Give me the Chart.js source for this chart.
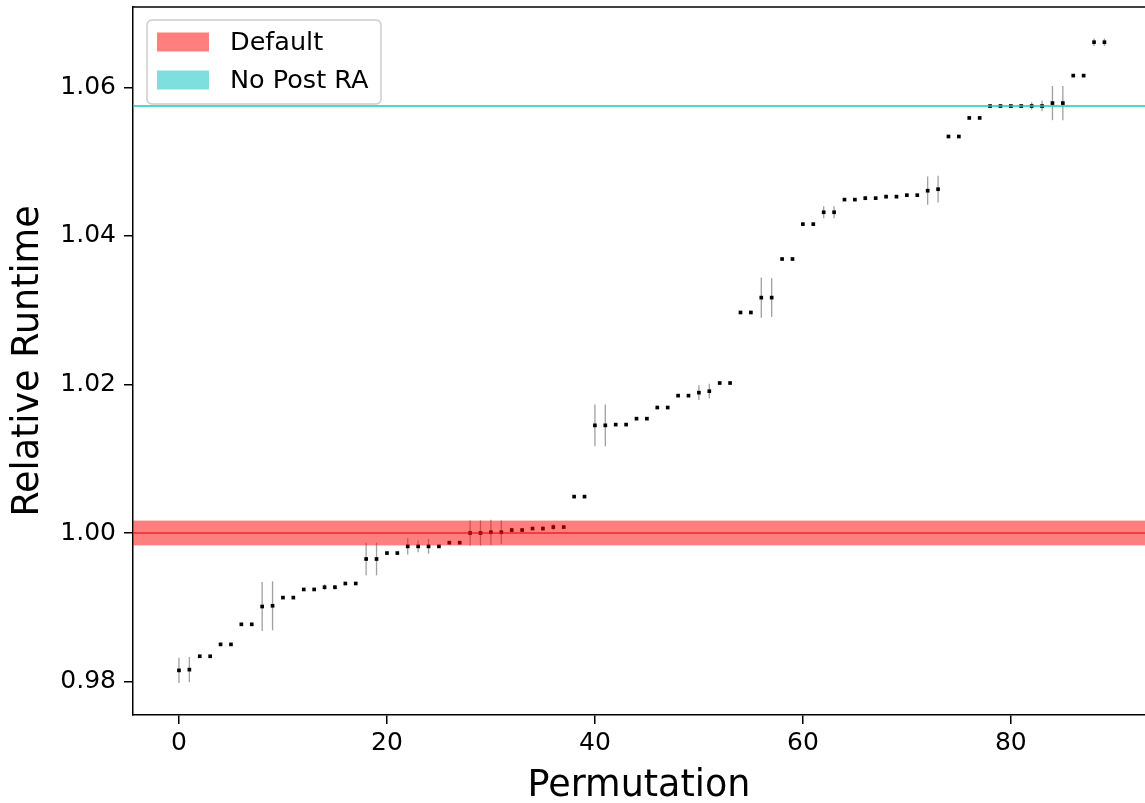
<!DOCTYPE html>
<html>
<head>
<meta charset="utf-8">
<script src="https://cdn.jsdelivr.net/npm/chart.js@4.4.1/dist/chart.umd.min.js"></script>
<style>
    html,body{margin:0;padding:0;background:#fff;overflow:hidden;}
    #wrap{width:1145px;height:803px;position:relative;}
    #myScatterChart{display:block;}
</style>
</head>
<body>
<div id="wrap"><canvas id="myScatterChart"></canvas></div>
<script>
// relative runtime per permutation
const runtimes = [
    0.9815, 0.9816, 0.9834, 0.9834, 0.9850, 0.9850, 0.9877, 0.9877, 0.9901, 0.9902,
    0.9913, 0.9913, 0.9924, 0.9924, 0.9927, 0.9927, 0.9932, 0.9932, 0.9965, 0.9965,
    0.9973, 0.9973, 0.9982, 0.9982, 0.9982, 0.9982, 0.9987, 0.9987, 1.0000, 1.0000,
    1.0001, 1.0001, 1.0004, 1.0004, 1.0006, 1.0006, 1.0008, 1.0008, 1.0049, 1.0049,
    1.0145, 1.0145, 1.0146, 1.0146, 1.0154, 1.0154, 1.0169, 1.0169, 1.0185, 1.0185,
    1.0189, 1.0191, 1.0202, 1.0202, 1.0297, 1.0297, 1.0317, 1.0317, 1.0369, 1.0369,
    1.0416, 1.0416, 1.0432, 1.0432, 1.0449, 1.0449, 1.0451, 1.0451, 1.0453, 1.0453,
    1.0455, 1.0455, 1.0461, 1.0463, 1.0534, 1.0534, 1.0559, 1.0559, 1.0575, 1.0575,
    1.0575, 1.0575, 1.0575, 1.0575, 1.0579, 1.0579, 1.0616, 1.0616, 1.0661, 1.0661
];
const runtimeErrors = [
    0.0017, 0.0017, 0.0002, 0.0002, 0, 0, 0, 0, 0.0033, 0.0033,
    0, 0, 0, 0, 0.0004, 0.0003, 0, 0, 0.0022, 0.0022,
    0, 0, 0.0011, 0.0008, 0.0010, 0, 0.0002, 0, 0.0017, 0.0017,
    0.0017, 0.0016, 0.0003, 0, 0, 0.0003, 0.0004, 0, 0, 0,
    0.0028, 0.0028, 0, 0, 0, 0, 0, 0, 0, 0,
    0.0010, 0.0010, 0, 0, 0, 0, 0.0027, 0.0026, 0, 0,
    0, 0, 0.0008, 0.0008, 0, 0, 0.0003, 0, 0.0003, 0.0002,
    0, 0, 0.0019, 0.0018, 0, 0, 0, 0, 0, 0,
    0, 0, 0.0005, 0.0007, 0.0023, 0.0023, 0, 0, 0.0005, 0.0005
];
const permutations = runtimes.map((v, i) => i);

const defaultRuntime = 1.0;
const defaultStd = 0.00167;
const noPostRaRuntime = 1.0575;

const xTicks = [0, 20, 40, 60, 80];
const yTicks = [0.98, 1.00, 1.02, 1.04, 1.06];
const legendLabels = ['Default', 'No Post RA'];

const FONT = "'DejaVu Sans', sans-serif";

// error bars go under the markers
const errorBarPlugin = {
    id: 'errorBars',
    beforeDatasetsDraw(chart) {
        const ctx = chart.ctx;
        const xs = chart.scales.x;
        const ys = chart.scales.y;
        ctx.save();
        ctx.strokeStyle = 'rgba(128,128,128,0.75)';
        ctx.lineWidth = 1.3;
        permutations.forEach((p, i) => {
            const e = runtimeErrors[i];
            if (!e) return;
            const px = xs.getPixelForValue(p);
            ctx.beginPath();
            ctx.moveTo(px, ys.getPixelForValue(runtimes[i] - e));
            ctx.lineTo(px, ys.getPixelForValue(runtimes[i] + e));
            ctx.stroke();
        });
        ctx.restore();
    }
};

// reference bands are drawn over the points, like in the original
const referencePlugin = {
    id: 'references',
    afterDatasetsDraw(chart) {
        const ctx = chart.ctx;
        const a = chart.chartArea;
        const ys = chart.scales.y;
        ctx.save();
        ctx.beginPath();
        ctx.rect(a.left, a.top, a.right - a.left, a.bottom - a.top);
        ctx.clip();

        const top = ys.getPixelForValue(defaultRuntime + defaultStd);
        const bot = ys.getPixelForValue(defaultRuntime - defaultStd);
        ctx.fillStyle = 'rgba(255,0,0,0.5)';
        ctx.fillRect(a.left, top, a.right - a.left, bot - top);

        const yd = ys.getPixelForValue(defaultRuntime);
        ctx.strokeStyle = 'rgba(225,20,20,0.8)';
        ctx.lineWidth = 1.5;
        ctx.beginPath();
        ctx.moveTo(a.left, yd);
        ctx.lineTo(a.right, yd);
        ctx.stroke();

        const yc = ys.getPixelForValue(noPostRaRuntime);
        ctx.strokeStyle = '#1fc3c3';
        ctx.beginPath();
        ctx.moveTo(a.left, yc);
        ctx.lineTo(a.right, yc);
        ctx.stroke();
        ctx.restore();
    },
    afterDraw(chart) {
        const ctx = chart.ctx;
        const a = chart.chartArea;
        ctx.save();
        // top spine
        ctx.strokeStyle = '#000';
        ctx.lineWidth = 1.5;
        ctx.beginPath();
        ctx.moveTo(a.left, a.top);
        ctx.lineTo(a.right, a.top);
        ctx.stroke();

        // legend box
        const bx = a.left + 14, by = a.top + 13, bw = 234, bh = 84, r = 5;
        ctx.fillStyle = 'rgba(255,255,255,0.8)';
        ctx.strokeStyle = '#cccccc';
        ctx.lineWidth = 1.5;
        ctx.beginPath();
        ctx.roundRect(bx, by, bw, bh, r);
        ctx.fill();
        ctx.stroke();

        const swatches = ['rgba(255,0,0,0.5)', 'rgba(0,191,191,0.5)'];
        ctx.font = '25.5px ' + FONT;
        ctx.textBaseline = 'middle';
        ctx.textAlign = 'left';
        legendLabels.forEach((lbl, i) => {
            const cy = by + 22 + i * 38;
            ctx.fillStyle = swatches[i];
            ctx.fillRect(bx + 10, cy - 9.5, 52, 19);
            ctx.fillStyle = '#000';
            ctx.fillText(lbl, bx + 83, cy + 1);
        });
        ctx.restore();
    }
};

const loadRuntimeChart = () => {
    const ctx = document.getElementById('myScatterChart').getContext('2d');

    const data = {
        datasets: [{
            label: 'Runtime',
            data: permutations.map((p, i) => ({x: p, y: runtimes[i]})),
            backgroundColor: '#000',
            borderWidth: 0,
            pointStyle: 'rect',
            pointRadius: 2.6,
            showLine: false
        }]
    };

    const config = {
        type: 'scatter',
        data: data,
        plugins: [errorBarPlugin, referencePlugin],
        options: {
            responsive: true,
            maintainAspectRatio: false,
            animation: false,
            layout: {autoPadding: false, padding: {top: 7, left: 0, right: 0, bottom: 0}},
            plugins: {
                legend: {display: false},
                tooltip: {enabled: false}
            },
            scales: {
                x: {
                    type: 'linear',
                    min: -4.42,
                    max: 92.9,
                    afterBuildTicks: (s) => { s.ticks = xTicks.map(v => ({value: v})); },
                    afterFit: (s) => { s.height = 88; s.paddingLeft = 0; s.paddingRight = 0; },
                    grid: {display: true, drawOnChartArea: false, drawTicks: true, tickLength: 9, color: '#000', lineWidth: 1.5},
                    border: {display: true, color: '#000', width: 1.5},
                    ticks: {color: '#000', padding: 4, maxRotation: 0, font: {family: FONT, size: 25}},
                    title: {display: true, text: 'Permutation', color: '#000', padding: {top: 0, bottom: -5}, font: {family: FONT, size: 36.5}}
                },
                y: {
                    min: 0.97549,
                    max: 1.07084,
                    afterBuildTicks: (s) => { s.ticks = yTicks.map(v => ({value: v})); },
                    afterFit: (s) => { s.width = 133; s.paddingTop = 0; s.paddingBottom = 0; },
                    grid: {display: true, drawOnChartArea: false, drawTicks: true, tickLength: 9, color: '#000', lineWidth: 1.5},
                    border: {display: true, color: '#000', width: 1.5},
                    ticks: {color: '#000', padding: 8, font: {family: FONT, size: 25}, callback: (v) => Number(v).toFixed(2)},
                    title: {display: true, text: 'Relative Runtime', color: '#000', padding: {top: 7, bottom: 0}, font: {family: FONT, size: 36.5}}
                }
            }
        }
    };

    const myScatterChart = new Chart(ctx, config);
}

loadRuntimeChart();
</script>
</body>
</html>
